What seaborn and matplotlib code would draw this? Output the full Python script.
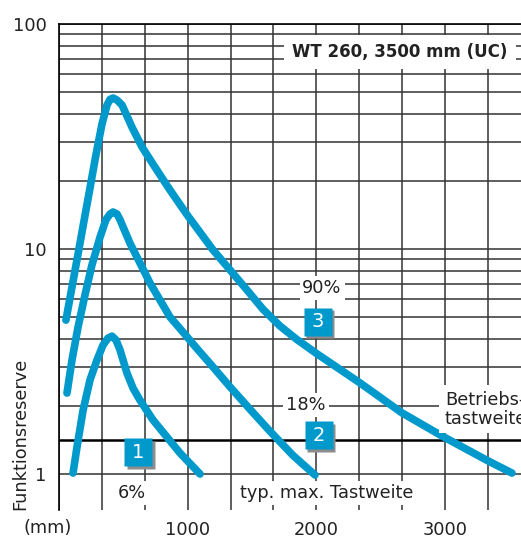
import pandas as pd
import seaborn as sns
import matplotlib.pyplot as plt
from matplotlib.ticker import MultipleLocator, FixedLocator
from matplotlib.transforms import offset_copy

sns.set_style("white")
plt.rcParams['font.family'] = ['DejaVu Sans']

# curve 3 (90 %)
dist_90 = [54, 101, 148, 194, 241, 287, 334, 373, 396, 420, 451, 490, 567, 645,
           746, 862, 995, 1197, 1329, 1461, 1585, 1717, 1849, 2005, 2339, 2665,
           2991, 3326, 3520]
res_90 = [4.83, 6.78, 9.5, 13.3, 18.7, 26.2, 35.9, 43.6, 46.2, 46.9, 45.9, 43.6,
          34.8, 28.4, 23.1, 18.3, 14.2, 9.9, 8.07, 6.57, 5.4, 4.55, 3.96, 3.42,
          2.54, 1.87, 1.46, 1.15, 1.01]

# curve 2 (18 %)
dist_18 = [62, 101, 148, 202, 256, 319, 365, 396, 420, 451, 474, 552, 629, 707,
           785, 862, 940, 1072, 1197, 1329, 1484, 1639, 1818, 1989]
res_18 = [2.29, 3.21, 4.5, 6.25, 8.49, 11.3, 13.5, 14.3, 14.6, 14.3, 13.5, 10.6,
          8.67, 7.06, 5.93, 4.99, 4.43, 3.61, 2.99, 2.44, 1.94, 1.55, 1.21, 0.99]

# curve 1 (6 %)
dist_6 = [109, 140, 187, 241, 295, 342, 381, 412, 443, 474, 528, 575, 629, 730,
          839, 940, 1096]
res_6 = [1.01, 1.32, 1.92, 2.62, 3.21, 3.74, 4.02, 4.1, 3.94, 3.56, 2.81, 2.41,
         2.13, 1.74, 1.46, 1.24, 1.0]

curve_names = ['3', '2', '1']
box_x = [2012, 2020, 614]
box_y = [4.74, 1.49, 1.25]
betriebs_level = 1.42
grid_levels = [1, 2, 3, 4, 5, 6, 7, 8, 9, 10, 20, 30, 40, 50, 60, 70, 80, 90, 100]
x_ticks = [1000, 2000, 3000]
y_ticks = [1, 10, 100]

blue = '#0099cc'
ink = '#222222'

df = pd.concat([
    pd.DataFrame({'dist': dist_90, 'res': res_90, 'curve': '3'}),
    pd.DataFrame({'dist': dist_18, 'res': res_18, 'curve': '2'}),
    pd.DataFrame({'dist': dist_6, 'res': res_6, 'curve': '1'}),
])

fig = plt.figure(figsize=(5.21, 5.38), dpi=100)
ax = fig.add_axes([59 / 521, 28 / 538, 462 / 521, 486 / 538])

ax.set_yscale('log')
ax.set_ylim(0.692, 100)
ax.set_xlim(0, 3590)

# grid
for v in grid_levels:
    ax.axhline(v, color='#333333', lw=1.1, zorder=1)
ax.xaxis.set_minor_locator(MultipleLocator(1000 / 3))
ax.grid(True, axis='x', which='both', color='#333333', lw=1.1, zorder=1)
ax.axhline(betriebs_level, color='black', lw=1.8, zorder=1)

sns.lineplot(data=df, x='dist', y='res', units='curve', estimator=None,
             sort=False, color=blue, lw=5.5, ax=ax, zorder=3,
             solid_capstyle='round', solid_joinstyle='round')

ax.set_xticks(x_ticks)
ax.set_xticklabels([str(t) for t in x_ticks])
ax.yaxis.set_major_locator(FixedLocator(y_ticks))
ax.yaxis.set_minor_locator(FixedLocator([]))
ax.set_yticklabels([str(t) for t in y_ticks])
ax.tick_params(axis='both', length=0, labelsize=12.8, colors=ink)
ax.tick_params(axis='x', pad=8)
ax.tick_params(axis='y', pad=9)
ax.set_xlabel('')
ax.set_ylabel('')

for s in ['bottom', 'right']:
    ax.spines[s].set_visible(False)
for s in ['left', 'top']:
    ax.spines[s].set_color('black')
    ax.spines[s].set_linewidth(1.2)

white = dict(facecolor='white', edgecolor='none', pad=2)
txt = dict(fontsize=12.8, color=ink, zorder=4)

ax.text(2044, 6.71, '90%', ha='center', va='center', bbox=white, **txt)
ax.text(1919, 2.03, '18%', ha='center', va='center', bbox=white, **txt)
ax.text(567, 0.823, '6%', ha='center', va='center', bbox=white, **txt)
ax.text(2082, 0.823, 'typ. max. Tastweite', ha='center', va='center', bbox=white, **txt)
ax.text(2999, 1.94, 'Betriebs-\ntastweite', ha='left', va='center', linespacing=1.05,
        bbox=dict(facecolor='white', edgecolor='none', pad=4), **txt)
ax.text(1810, 75, 'WT 260, 3500 mm (UC)', ha='left', va='center', fontweight='bold',
        fontsize=12, color=ink, zorder=4,
        bbox=dict(facecolor='white', edgecolor='none', pad=6))

# numbered boxes with shadow
shadow = offset_copy(ax.transData, fig=fig, x=2.5, y=-2.5, units='dots')
ax.plot(box_x, box_y, ls='none', marker='s', ms=20.5, color='#8c8c8c',
        mec='none', transform=shadow, zorder=4)
ax.plot(box_x, box_y, ls='none', marker='s', ms=20.5, color=blue,
        mec='none', zorder=5)
for name, bx, by in zip(curve_names, box_x, box_y):
    ax.text(bx, by, name, ha='center', va='center', fontsize=14, color='white',
            zorder=6)

fig.text(48 / 521, 1 - 528 / 538, '(mm)', ha='center', va='center',
         fontsize=12.8, color=ink)
fig.text(20 / 521, 28 / 538, 'Funktionsreserve', rotation=90, ha='center',
         va='bottom', fontsize=12.8, color=ink)

fig.savefig('out.png', dpi=100)
